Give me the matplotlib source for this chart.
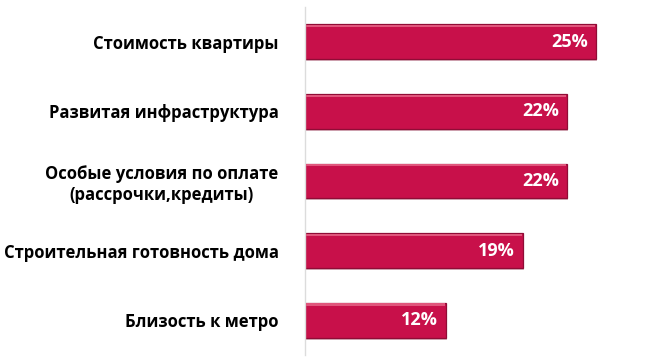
import matplotlib
matplotlib.use("Agg")
import matplotlib.pyplot as plt

# values, labels as printed
categories = [
    "Стоимость квартиры",
    "Развитая инфраструктура",
    "Особые условия по оплате\n(рассрочки,кредиты)",
    "Строительная готовность дома",
    "Близость к метро",
]
values = [25.0, 22.5, 22.5, 18.7, 12.1]
value_labels = ["25%", "22%", "22%", "19%", "12%"]

plt.rcParams["font.family"] = ["Open Sans", "DejaVu Sans"]

fig = plt.figure(figsize=(6.62, 3.62), dpi=100)
ax = fig.add_axes([305 / 662, 7 / 362, 345 / 662, 348 / 362])

y = list(range(len(categories)))
# soft shadow under each bar, then the bar itself
ax.barh([p + 0.03 for p in y], values, height=0.5, left=0.08,
        color="#7a0a2c", alpha=0.3, zorder=1)
bars = ax.barh(y, values, height=0.5, color="#c8104a",
               edgecolor="#900c36", linewidth=0.9, zorder=2)
# light bevel line along the top edge
ax.barh([p - 0.225 for p in y], [v - 0.1 for v in values], height=0.03,
        left=0.05, color="#e0567c", linewidth=0, zorder=3)

for b, lab in zip(bars, value_labels):
    ax.text(b.get_width() - 0.65, b.get_y() + b.get_height() / 2, lab,
            ha="right", va="center", color="white",
            fontsize=13, fontweight="bold", zorder=4)

ax.set_ylim(len(categories) - 0.5, -0.5)
ax.set_xlim(0, 25 * 345 / 291)
ax.set_yticks(y)
ax.set_yticklabels(categories, fontsize=12, fontweight="bold",
                   multialignment="center")
ax.tick_params(axis="y", length=0, pad=19)
ax.set_xticks([])

for s in ["top", "right", "bottom"]:
    ax.spines[s].set_visible(False)
ax.spines["left"].set_color("#dcdcdc")
ax.spines["left"].set_linewidth(1.0)

fig.savefig("out.png", dpi=100)
